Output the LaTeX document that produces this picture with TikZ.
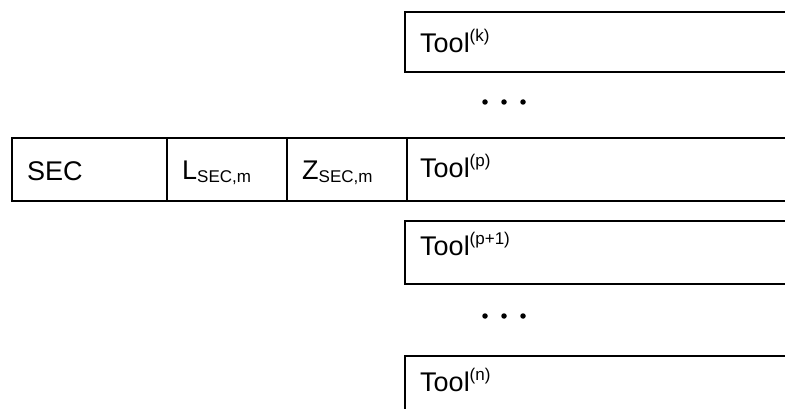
\documentclass[tikz,border=0pt]{standalone}
\usepackage{fontspec}
\setmainfont{Liberation Sans}
\newcommand\lowtxt[1]{\raisebox{-2pt}{\fontsize{17}{17}\selectfont #1}}
\newcommand\hightxt[1]{\raisebox{11pt}{\fontsize{17}{17}\selectfont #1}}
\tikzset{
  cell/.style={draw=black, line width=1.4pt, anchor=north west, inner sep=0pt, outer sep=0pt},
  lbl/.style={anchor=base west, inner sep=0pt, font=\fontsize{27}{32}\selectfont},
  dot/.style={circle, fill=black, inner sep=0pt, minimum size=5.5pt},
}
\begin{document}
\begin{tikzpicture}[x=1pt, y=-1pt]
\useasboundingbox (0,0) rectangle (785,409);
\clip (0,0) rectangle (785,409);
% record row: SEC | L | Z | Tool(p)
\node[cell, minimum width=155pt, minimum height=63pt] (sec) at (12,138) {};
\node[cell, minimum width=120pt, minimum height=63pt] (len) at (167,138) {};
\node[cell, minimum width=120pt, minimum height=63pt] (zs) at (287,138) {};
\node[cell, minimum width=400pt, minimum height=63pt] (tp) at (407,138) {};
% stacked tool records
\node[cell, minimum width=400pt, minimum height=60pt] (tk) at (405,12) {};
\node[cell, minimum width=400pt, minimum height=63pt] (tq) at (405,221) {};
\node[cell, minimum width=400pt, minimum height=70pt] (tn) at (405,356) {};
% labels
\node[lbl] (secl) at ([xshift=15pt, yshift=-43pt]sec.north west) {SEC};
\node[lbl] (lenl) at ([xshift=15pt, yshift=-42pt]len.north west) {L\lowtxt{SEC,m}};
\node[lbl] (zsl)  at ([xshift=15pt, yshift=-42pt]zs.north west) {Z\lowtxt{SEC,m}};
\node[lbl] (tkl)  at ([xshift=15pt, yshift=-41pt]tk.north west) {Tool\hightxt{(k)}};
\node[lbl] (tpl)  at ([xshift=13pt, yshift=-40pt]tp.north west) {Tool\hightxt{(p)}};
\node[lbl] (tql)  at ([xshift=15pt, yshift=-34pt]tq.north west) {Tool\hightxt{(p+1)}};
\node[lbl] (tnl)  at ([xshift=15pt, yshift=-35pt]tn.north west) {Tool\hightxt{(n)}};
% ellipses between tool records
\foreach \i/\x in {1/485, 2/504, 3/523} {
  \node[dot] (da\i) at (\x,102) {};
  \node[dot] (db\i) at (\x,316) {};
}
\end{tikzpicture}
\end{document}
